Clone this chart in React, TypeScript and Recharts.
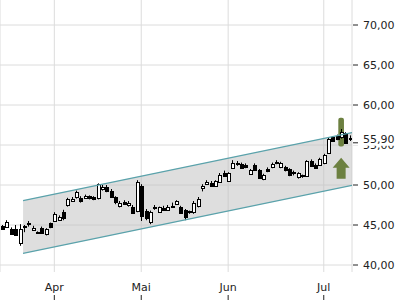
import React from 'react';
import {
  ComposedChart,
  Bar,
  Line,
  Area,
  XAxis,
  YAxis,
  CartesianGrid,
  ReferenceArea,
  ReferenceDot,
} from 'recharts';

// ---- data (daily candles, mid-March .. early July) ----
const opens = [
  44.9, 44.75, 44.5, 44.5, 42.75, 44.85, 45.1, 44.4, 44.15, 44.6,
  43.9, 45.2, 45.5, 45.6, 46.6, 47.5, 48.0, 48.5, 48.4, 48.4,
  48.6, 48.5, 48.3, 49.4, 49.7, 49.3, 48.5, 47.4, 47.9, 47.4,
  47.3, 46.8, 49.9, 46.8, 45.3, 47.2, 46.6, 47.1, 46.9, 47.35,
  47.6, 47.3, 46.9, 46.7, 46.6, 47.4, 49.55, 50.15, 50.25, 49.9,
  50.4, 51.5, 50.5, 52.1, 52.7, 52.6, 52.5, 51.4, 52.5, 51.9,
  50.75, 52.0, 52.25, 52.9, 52.25, 52.25, 52.0, 51.6, 51.0, 51.25,
  51.1, 53.0, 52.5, 52.5, 52.75, 54.0, 56.0, 56.1, 56.0, 56.5,
  55.8,
];
const highs = [
  45.0, 45.6, 44.7, 45.0, 45.1, 45.0, 45.5, 44.9, 44.2, 44.8,
  44.6, 45.3, 46.6, 46.2, 46.9, 48.4, 48.5, 49.3, 48.6, 48.8,
  48.7, 48.6, 50.2, 50.0, 50.0, 49.5, 48.6, 48.0, 48.1, 48.0,
  47.5, 50.6, 50.1, 47.0, 46.8, 47.5, 47.3, 47.4, 47.5, 47.8,
  48.1, 47.4, 47.0, 46.8, 48.0, 48.5, 50.1, 50.6, 50.5, 50.6,
  51.5, 51.8, 51.6, 53.1, 53.0, 52.8, 52.7, 52.0, 52.7, 52.0,
  51.4, 52.2, 52.8, 53.1, 52.9, 52.4, 52.1, 51.8, 51.6, 51.3,
  53.1, 53.2, 52.7, 53.4, 53.9, 55.9, 56.1, 56.3, 57.0, 56.6,
  56.2,
];
const lows = [
  44.4, 44.7, 43.8, 43.7, 42.4, 44.1, 44.8, 44.3, 44.0, 43.9,
  43.7, 44.6, 45.4, 45.5, 45.6, 47.3, 47.9, 48.3, 47.8, 48.3,
  48.2, 48.1, 48.2, 49.3, 49.1, 48.5, 47.6, 47.2, 47.5, 47.3,
  46.4, 46.6, 45.5, 45.6, 45.1, 46.9, 46.5, 46.8, 46.8, 47.2,
  47.5, 46.5, 45.6, 46.4, 46.4, 47.2, 49.2, 50.0, 49.8, 49.8,
  50.3, 51.0, 50.4, 52.0, 52.4, 52.0, 52.1, 51.3, 51.8, 50.8,
  50.6, 51.6, 52.1, 52.6, 52.1, 51.7, 51.1, 51.2, 50.8, 50.9,
  51.0, 52.3, 52.0, 52.4, 52.6, 53.9, 55.4, 55.6, 55.8, 55.2,
  55.5,
];
const closes = [
  44.5, 45.4, 43.9, 43.8, 44.5, 44.9, 45.2, 44.6, 44.1, 44.0,
  44.5, 44.7, 46.4, 46.0, 45.9, 48.2, 48.3, 49.1, 48.0, 48.6,
  48.3, 48.3, 50.1, 49.7, 49.2, 48.6, 47.9, 47.8, 47.7, 47.7,
  46.6, 50.4, 46.2, 45.9, 46.6, 47.1, 47.2, 46.9, 47.3, 47.4,
  48.0, 46.6, 46.0, 46.6, 47.75, 48.25, 49.85, 50.35, 49.9, 50.5,
  51.25, 51.1, 51.5, 52.75, 52.6, 52.1, 52.25, 51.9, 51.9, 50.9,
  51.25, 51.7, 52.6, 52.75, 52.75, 51.9, 51.25, 51.5, 51.5, 51.1,
  53.0, 52.4, 52.1, 53.25, 53.75, 55.75, 55.5, 55.75, 56.6, 55.3,
  55.9,
];

const monthTicks = [12, 32, 52, 74];
const monthLabels = ['Apr', 'Mai', 'Jun', 'Jul'];
const priceTicks = [40, 45, 50, 55, 60, 65, 70];

// trend channel endpoints (x in candle index units)
const channelX = [4.8, 80.5];
const channelUpper = [48.05, 56.55];
const channelLower = [41.45, 49.95];

// signal markers
const signalIndex = 78;
const signalRange = [54.8, 58.4];
const arrowTopValue = 53.4;

const data = opens.map((o, i) => ({
  i,
  open: o,
  high: highs[i],
  low: lows[i],
  close: closes[i],
}));
const channelData = channelX.map((x, k) => ({
  i: x,
  upper: channelUpper[k],
  lower: channelLower[k],
  band: [channelLower[k], channelUpper[k]],
}));
const lastClose = closes[closes.length - 1];
// the current price is appended last so that its label is drawn on top
const yTicks = [...priceTicks, lastClose];

const FONT = 'DejaVu Sans';
const GREEN = '#6c8040';
const fmt = (v: number) => v.toFixed(2).replace('.', ',');

const Candle = (props: any) => {
  const { x, y, width, height, payload } = props;
  if (!payload || height == null || isNaN(y)) return null;
  const { open, high, low, close } = payload;
  const cx = Math.round(x + width / 2) + 0.5;
  const per = height / (high - low || 1);
  const top = y + (high - Math.max(open, close)) * per;
  let bot = y + (high - Math.min(open, close)) * per;
  if (bot - top < 1) bot = top + 1;
  const up = close >= open;
  return (
    <g>
      <line x1={cx} x2={cx} y1={y} y2={y + height} stroke="#000" strokeWidth={1} />
      <rect
        x={cx - 1}
        y={Math.round(top) + 0.5}
        width={3}
        height={Math.max(1, Math.round(bot - top))}
        fill={up ? '#fff' : '#000'}
        stroke="#000"
        strokeWidth={1}
      />
    </g>
  );
};

const XTick = (props: any) => {
  const { x, y, payload } = props;
  const k = monthTicks.indexOf(payload.value);
  return (
    <g>
      <text x={x} y={y + 19} textAnchor="middle" fontSize={11} fontFamily={FONT} fill="#222">
        {k >= 0 ? monthLabels[k] : ''}
      </text>
      <line x1={x} x2={x} y1={y + 23} y2={y + 28} stroke="#222" strokeWidth={1} />
    </g>
  );
};

const YTick = (props: any) => {
  const { x, y, payload } = props;
  if (payload.value === lastClose) {
    return (
      <g>
        <rect x={x + 1} y={y - 7} width={47} height={15} fill="#fff" />
        <line x1={x + 1} x2={x + 6} y1={y + 5} y2={y + 5} stroke="#222" strokeWidth={1} />
        <text x={x + 11} y={y + 5} fontSize={11} fontFamily={FONT} fill="#222">
          {fmt(payload.value)}
        </text>
      </g>
    );
  }
  return (
    <g>
      <line x1={x + 1} x2={x + 6} y1={y} y2={y} stroke="#222" strokeWidth={1} />
      <text x={x + 11} y={y + 4} fontSize={11} fontFamily={FONT} fill="#222">
        {fmt(payload.value)}
      </text>
    </g>
  );
};

const Arrow = (props: any) => {
  const { cx, cy } = props;
  const pts = [
    [cx, cy],
    [cx + 8.5, cy + 10],
    [cx + 4.5, cy + 10],
    [cx + 4.5, cy + 21],
    [cx - 4.5, cy + 21],
    [cx - 4.5, cy + 10],
    [cx - 8.5, cy + 10],
  ]
    .map((p) => p.join(','))
    .join(' ');
  return <polygon points={pts} fill={GREEN} />;
};

export default function App() {
  return (
    <div style={{ position: 'absolute', left: 0, top: 0, fontFamily: FONT }}>
      <ComposedChart
        width={400}
        height={300}
        data={data}
        margin={{ top: 0, right: 0, bottom: 0, left: 0 }}
      >
        <CartesianGrid stroke="#dcdcdc" strokeWidth={1} horizontalValues={priceTicks} />
        <XAxis
          type="number"
          dataKey="i"
          domain={[-0.5, 80.5]}
          allowDataOverflow
          ticks={monthTicks}
          interval={0}
          tick={<XTick />}
          tickLine={false}
          axisLine={false}
          tickSize={0}
          tickMargin={0}
          height={28}
        />
        <YAxis
          orientation="right"
          domain={[39.125, 73.125]}
          allowDataOverflow
          ticks={yTicks}
          interval={0}
          tick={<YTick />}
          tickLine={false}
          axisLine={false}
          tickSize={0}
          tickMargin={0}
          width={48}
        />
        <Area
          data={channelData}
          dataKey="band"
          type="linear"
          stroke="none"
          fill="#bdbdbd"
          fillOpacity={0.5}
          dot={false}
          activeDot={false}
          isAnimationActive={false}
        />
        <Line
          data={channelData}
          dataKey="upper"
          type="linear"
          stroke="#5aa2ab"
          strokeWidth={1.2}
          dot={false}
          activeDot={false}
          isAnimationActive={false}
        />
        <Line
          data={channelData}
          dataKey="lower"
          type="linear"
          stroke="#5aa2ab"
          strokeWidth={1.2}
          dot={false}
          activeDot={false}
          isAnimationActive={false}
        />
        <ReferenceArea
          x1={signalIndex - 0.65}
          x2={signalIndex + 0.65}
          y1={signalRange[0]}
          y2={signalRange[1]}
          fill={GREEN}
          fillOpacity={1}
          radius={2}
        />
        <Bar
          dataKey={(d: any) => [d.low, d.high]}
          barSize={4}
          shape={(p: any) => <Candle {...p} />}
          isAnimationActive={false}
        />
        <ReferenceDot
          x={signalIndex}
          y={arrowTopValue}
          r={10}
          shape={(p: any) => <Arrow {...p} />}
        />
      </ComposedChart>
    </div>
  );
}
